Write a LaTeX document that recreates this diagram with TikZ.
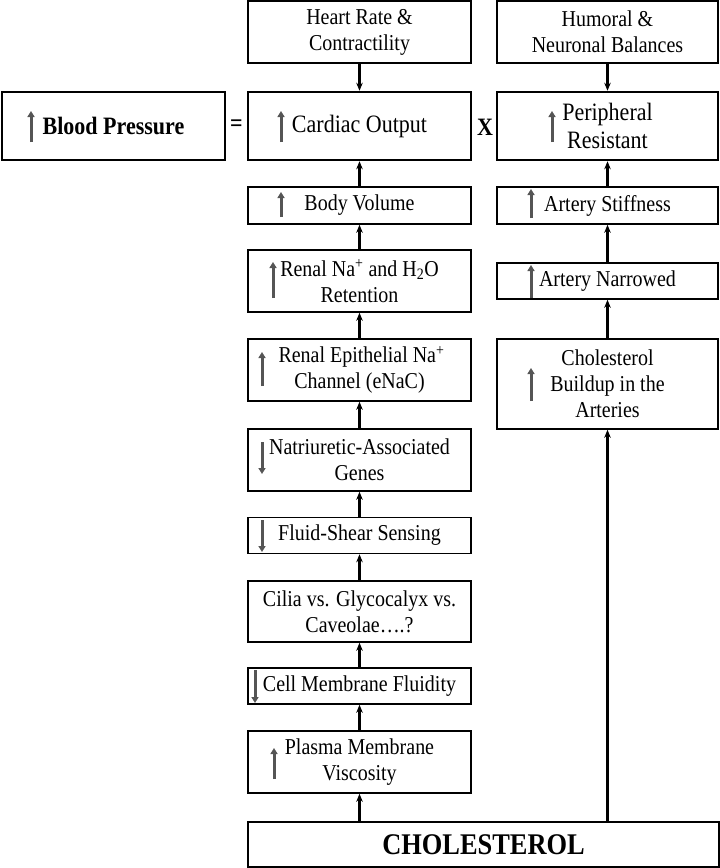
\documentclass[tikz,border=0pt]{standalone}
\usepackage{fontspec}
\setmainfont{Liberation Serif}[FakeStretch=0.88]
\usetikzlibrary{arrows.meta}
\definecolor{indgray}{HTML}{555555}
\tikzset{
  box/.style={draw, line width=1.5pt, align=center, inner sep=0pt, font=\fontsize{22.7}{26}\selectfont},
  mainbox/.style={box, line width=2.5pt, font=\fontsize{25}{28}\selectfont},
  conn/.style={line width=2.1pt, -{Stealth[length=8pt,width=6.5pt]}},
  ind/.style={draw=indgray, line width=3pt, -{Triangle[length=6pt,width=7pt]}},
  lw/.style={minimum width=223pt},
  rw/.style={minimum width=221pt},
}
\begin{document}
\begin{tikzpicture}[x=1pt,y=-1pt]
\useasboundingbox (0,0) rectangle (720,868);
% top row
\node[box,lw,minimum height=62pt] (hr) at (359.5,32) {Heart Rate \&\\Contractility};
\node[box,rw,minimum height=62pt] (hn) at (607.5,32) {Humoral \&\\Neuronal Balances};
% main row
\node[mainbox,lw,minimum height=68pt] (bp) at (113.5,126) {\textbf{Blood Pressure}};
\node[mainbox,lw,minimum height=68pt] (co) at (359.5,126) {Cardiac Output};
\node[mainbox,rw,minimum height=68pt] (pr) at (607.5,126) {Peripheral\\Resistant};
\node[font=\fontsize{25}{28}\selectfont\bfseries] (eq) at (236.5,126) {=};
\node[font=\fontsize{25}{28}\selectfont\bfseries] (xx) at (485,127) {X};
% left column
\node[box,lw,minimum height=37pt] (bv) at (359.5,205.5) {Body Volume};
\node[box,lw,minimum height=62pt] (rn) at (359.5,281) {Renal Na\textsuperscript{+} and H\textsubscript{2}O\\Retention};
\node[box,lw,minimum height=62pt] (re) at (359.5,370) {\hspace*{4pt}Renal Epithelial Na\textsuperscript{+}\\Channel (eNaC)};
\node[box,lw,minimum height=62pt] (na) at (359.5,460) {Natriuretic-Associated\\Genes};
\node[box,lw,minimum height=36pt] (fs) at (359.5,535.5) {Fluid-Shear Sensing};
\node[box,lw,minimum height=61pt] (ci) at (359.5,611.5) {Cilia vs. Glycocalyx vs.\\Caveolae….?};
\node[box,lw,minimum height=36pt] (cm) at (359.5,686) {Cell Membrane Fluidity};
\node[box,lw,minimum height=62pt] (pm) at (359.5,762) {Plasma Membrane\\Viscosity};
\node[box,minimum width=471pt,minimum height=45pt,font=\fontsize{30}{34}\selectfont\bfseries] (chol) at (483.5,844.5) {CHOLESTEROL};
% right column
\node[box,rw,minimum height=37pt] (as) at (607.5,205.5) {Artery Stiffness};
\node[box,rw,minimum height=36pt] (an) at (607.5,281) {Artery Narrowed};
\node[box,rw,minimum height=90pt] (cb) at (607.5,384) {Cholesterol\\Buildup in the\\Arteries};
% connectors
\draw[conn] (hr) -- (co);
\draw[conn] (hn) -- (pr);
\draw[conn] (bv) -- (co);
\draw[conn] (rn) -- (bv);
\draw[conn] (re) -- (rn);
\draw[conn] (na) -- (re);
\draw[conn] (fs) -- (na);
\draw[conn] (ci) -- (fs);
\draw[conn] (cm) -- (ci);
\draw[conn] (pm) -- (cm);
\draw[conn] (chol.north -| pm) -- (pm.south);
\draw[conn] (as) -- (pr);
\draw[conn] (an) -- (as);
\draw[conn] (cb) -- (an);
\draw[conn] (chol.north -| cb) -- (cb.south);
% indicator arrows
\draw[ind] (31,142) -- (31,111);
\draw[ind] (281,142) -- (281,111);
\draw[ind] (552,142) -- (552,111);
\draw[ind] (281,217) -- (281,192);
\draw[ind] (273,298) -- (273,262);
\draw[ind] (262,386) -- (262,352);
\draw[ind] (262,442) -- (262,474);
\draw[ind] (262,520) -- (262,552);
\draw[ind] (255,670) -- (255,703);
\draw[ind] (274,779) -- (274,748);
\draw[ind] (531,218) -- (531,189);
\draw[ind] (531,298) -- (531,265);
\draw[ind] (531,401) -- (531,368);
\end{tikzpicture}
\end{document}
